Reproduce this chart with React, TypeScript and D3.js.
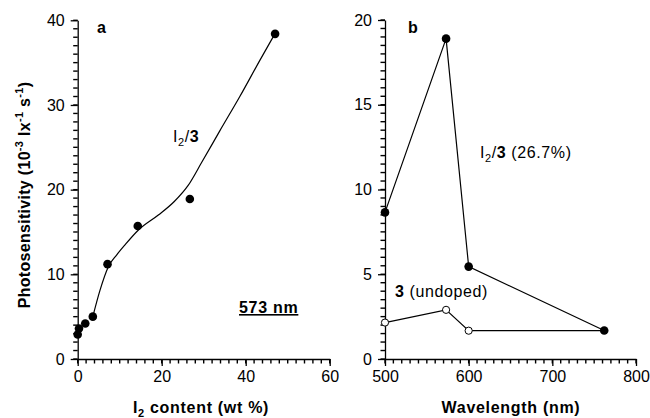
import React, { useEffect, useRef } from 'react';
import * as d3 from 'd3';

// panel a: photosensitivity vs I2 content at 573 nm
const iodineContent = [0, 0.3, 1.8, 3.6, 7.1, 14.3, 26.7, 47.0];
const sensitivityA = [2.9, 3.6, 4.2, 5.0, 11.2, 15.7, 18.9, 38.4];
// hand drawn fit line through panel a
const fitContent = [3.6, 5.3, 7.3, 9.3, 11.3, 14.4, 19.2, 23.0, 26.3, 29.5, 33.9, 38.6, 43.4, 46.6];
const fitSensitivity = [5.0, 8.1, 10.9, 12.3, 13.5, 15.2, 17.0, 18.6, 20.5, 23.2, 27.0, 31.0, 35.3, 38.1];

// panel b: spectral dependence
const wavelengths = [500, 573, 600, 762];
const dopedB = [8.65, 18.9, 5.45, 1.68];
const undopedB = [2.15, 2.9, 1.67, 1.67];

const ticksA_x = [0, 20, 40, 60];
const ticksA_y = [0, 10, 20, 30, 40];
const ticksB_x = [500, 600, 700, 800];
const ticksB_y = [0, 5, 10, 15, 20];

const FONT = '"Liberation Sans", Arial, sans-serif';

const xa = d3.scaleLinear().domain([0, 60]).range([77.7, 329.7]);
const ya = d3.scaleLinear().domain([0, 40]).range([359, 20.3]);
const xb = d3.scaleLinear().domain([500, 800]).range([385, 636]);
const yb = d3.scaleLinear().domain([0, 20]).range([359, 20]);

const steps = (s: any, step: number) => {
  const [a, b] = s.domain();
  return d3.range(0, Math.round((b - a) / step) + 1).map((i) => a + i * step);
};

function MinorTicks({ sx, sy, xStep, yStep }: { sx: any; sy: any; xStep: number; yStep: number }) {
  const y0 = sy.range()[0];
  const x0 = sx.range()[0];
  return (
    <g stroke="#000" strokeWidth={1.4}>
      {steps(sx, xStep).map((d) => (
        <line key={'x' + d} x1={sx(d)} x2={sx(d)} y1={y0} y2={y0 + 4.5} />
      ))}
      {steps(sy, yStep).map((d) => (
        <line key={'y' + d} y1={sy(d)} y2={sy(d)} x1={x0} x2={x0 - 4.5} />
      ))}
    </g>
  );
}

function drawAxes(g: any, x: any, y: any, xt: number[], yt: number[]) {
  const y0 = y.range()[0];
  const x0 = x.range()[0];
  const bx = g.append('g').attr('transform', `translate(0, ${y0})`);
  bx.call(d3.axisBottom(x).tickValues(xt).tickSize(7).tickPadding(5).tickFormat(d3.format('d')).tickSizeOuter(0));
  const ly = g.append('g').attr('transform', `translate(${x0}, 0)`);
  ly.call(d3.axisLeft(y).tickValues(yt).tickSize(7).tickPadding(6).tickFormat(d3.format('d')).tickSizeOuter(0));

  g.selectAll('.domain').attr('stroke', '#000').attr('stroke-width', 1.3);
  g.selectAll('.tick line').attr('stroke', '#000').attr('stroke-width', 1.3);
  g.selectAll('.tick text').attr('font-family', FONT).attr('font-size', 16).attr('fill', '#000');
}

export default function App() {
  const ref = useRef<SVGGElement>(null);

  useEffect(() => {
    const root = d3.select(ref.current);
    root.selectAll('*').remove();

    // ---- panel a ----
    const ga = root.append('g');
    drawAxes(ga, xa, ya, ticksA_x, ticksA_y);

    const fit = d3.line<number>()
      .x((d, i) => xa(fitContent[i]))
      .y((d) => ya(d))
      .curve(d3.curveMonotoneX);
    ga.append('path').attr('d', fit(fitSensitivity)).attr('fill', 'none').attr('stroke', '#000').attr('stroke-width', 1.2);

    ga.selectAll('circle.a').data(sensitivityA).enter().append('circle')
      .attr('cx', (d, i) => xa(iodineContent[i]))
      .attr('cy', (d) => ya(d))
      .attr('r', 4.3)
      .attr('fill', '#000');

    // ---- panel b ----
    const gb = root.append('g');
    drawAxes(gb, xb, yb, ticksB_x, ticksB_y);

    const lineB = d3.line<number>().x((d, i) => xb(wavelengths[i])).y((d) => yb(d));
    gb.append('path').attr('d', lineB(undopedB)).attr('fill', 'none').attr('stroke', '#000').attr('stroke-width', 1.2);
    gb.append('path').attr('d', lineB(dopedB)).attr('fill', 'none').attr('stroke', '#000').attr('stroke-width', 1.2);

    gb.selectAll('circle.u').data(undopedB.slice(0, 3)).enter().append('circle')
      .attr('cx', (d, i) => xb(wavelengths[i]))
      .attr('cy', (d) => yb(d))
      .attr('r', 3.6)
      .attr('fill', '#fff')
      .attr('stroke', '#000')
      .attr('stroke-width', 1);
    gb.selectAll('circle.d').data(dopedB).enter().append('circle')
      .attr('cx', (d, i) => xb(wavelengths[i]))
      .attr('cy', (d) => yb(d))
      .attr('r', 4.3)
      .attr('fill', '#000');
  }, []);

  const bold = { fontFamily: FONT, fontWeight: 700, fontSize: 16, letterSpacing: 0.7 } as const;
  const normal = { fontFamily: FONT, fontSize: 16, letterSpacing: 0.6 } as const;

  return (
    <svg width={650} height={418} style={{ position: 'absolute', left: 0, top: 0, background: '#fff' }}>
      <MinorTicks sx={xa} sy={ya} xStep={2} yStep={1} />
      <MinorTicks sx={xb} sy={yb} xStep={10} yStep={0.5} />
      <g ref={ref} />
      {/* panel letters */}
      <text x={97} y={33} style={bold}>a</text>
      <text x={408} y={33} style={bold}>b</text>

      {/* axis titles */}
      <text transform="translate(30, 195) rotate(-90)" textAnchor="middle" style={{ ...bold, letterSpacing: 0.3 }}>
        Photosensitivity (10<tspan dy={-7} fontSize={11}>-3</tspan>
        <tspan dy={7}> lx</tspan><tspan dy={-7} fontSize={11}>-1</tspan>
        <tspan dy={7}> s</tspan><tspan dy={-7} fontSize={11}>-1</tspan>
        <tspan dy={7}>)</tspan>
      </text>
      <text x={201} y={413} textAnchor="middle" style={bold}>
        I<tspan dy={4} fontSize={11}>2</tspan><tspan dy={-4}> content (wt %)</tspan>
      </text>
      <text x={511} y={413} textAnchor="middle" style={bold}>Wavelength (nm)</text>

      {/* in-plot labels */}
      <text x={173} y={142} style={normal}>
        I<tspan dy={4} fontSize={11}>2</tspan><tspan dy={-4}>/</tspan><tspan fontWeight={700}>3</tspan>
      </text>
      <text x={239} y={313} style={bold} textDecoration="underline">573 nm</text>
      <text x={480} y={158} style={normal}>
        I<tspan dy={4} fontSize={11}>2</tspan><tspan dy={-4}>/</tspan><tspan fontWeight={700}>3</tspan> (26.7%)
      </text>
      <text x={395} y={297} style={normal}>
        <tspan fontWeight={700}>3</tspan> (undoped)
      </text>
    </svg>
  );
}
